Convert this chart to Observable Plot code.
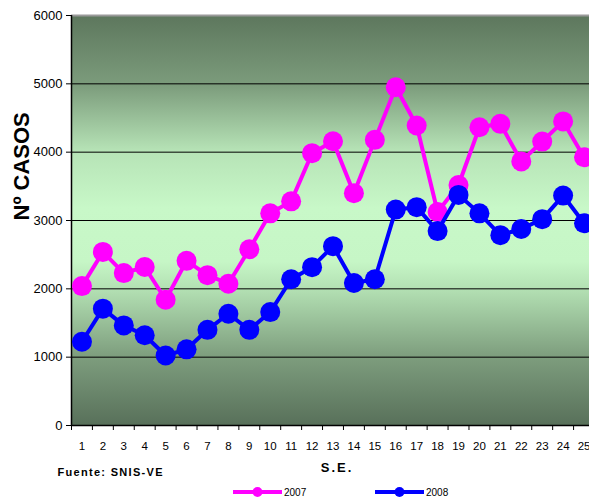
<!DOCTYPE html>
<html>
<head>
<meta charset="utf-8">
<script src="https://cdn.jsdelivr.net/npm/d3@7"></script>
<script src="https://cdn.jsdelivr.net/npm/@observablehq/plot@0.6"></script>
<style>
  html, body { margin: 0; padding: 0; background: #fff; overflow: hidden; width: 589px; height: 497px; }
  #chart { position: relative; width: 589px; height: 497px; overflow: hidden; }
  #chart > svg { max-width: none !important; width: 594px; height: 482px; display: block; }
  #legend { position: absolute; left: 0; top: 484px; width: 589px; height: 16px; font-family: Arial, "Liberation Sans", sans-serif; font-size: 10px; }
  .lg { position: absolute; top: 0; display: flex; align-items: center; height: 16px; }
  .lg svg { display: block; }
</style>
</head>
<body>
<div id="chart"></div>
<script>
const weeks = [1,2,3,4,5,6,7,8,9,10,11,12,13,14,15,16,17,18,19,20,21,22,23,24,25];
const cases2007 = [2040,2540,2230,2320,1840,2410,2200,2075,2580,3105,3280,3985,4160,3400,4180,4950,4390,3125,3520,4365,4415,3865,4155,4450,3925];
const cases2008 = [1225,1710,1465,1320,1025,1115,1400,1635,1400,1660,2140,2317,2625,2085,2140,3160,3195,2845,3375,3105,2785,2875,3020,3365,2960];
const series = ["2007", "2008"];
const colors = ["#ff00ff", "#0000ff"];
const yTicks = [0,1000,2000,3000,4000,5000,6000];
const gridTicks = [1000,2000,3000,4000,5000];

const rows = [];
weeks.forEach((w, i) => {
  rows.push({week: w, value: cases2007[i], year: series[0]});
});
weeks.forEach((w, i) => {
  rows.push({week: w, value: cases2008[i], year: series[1]});
});
const bounds = [weeks[0] - 0.5, ...weeks.map(w => w + 0.5)];

const font = 'Arial, "Liberation Sans", sans-serif';
const chart = Plot.plot({
  width: 594,
  height: 482,
  marginTop: 15,
  marginBottom: 57,
  marginLeft: 71,
  marginRight: 0,
  style: {fontFamily: font, background: "transparent", color: "#000", overflow: "visible", maxWidth: "none"},
  x: {domain: [bounds[0], bounds[bounds.length - 1]], axis: null},
  y: {domain: [0, 6000], axis: null},
  color: {domain: series, range: colors},
  marks: [
    Plot.frame({fill: "url(#bggrad)", stroke: "none"}),
    Plot.gridY(gridTicks, {stroke: "#000", strokeOpacity: 1, strokeWidth: 1}),
    Plot.ruleY([6000], {stroke: "#9a9a9a", strokeWidth: 2}),
    Plot.ruleX([bounds[0]], {stroke: "#000", strokeWidth: 1.5}),
    Plot.ruleY([0], {stroke: "#000", strokeWidth: 1.5}),
    Plot.axisY(yTicks, {tickSize: 5, tickPadding: 4, fontSize: 13, label: null, tickFormat: d => String(d)}),
    Plot.axisX(bounds, {tickSize: 5, tickFormat: () => "", label: null}),
    Plot.axisX(weeks, {tickSize: 0, tickPadding: 16, fontSize: 11.5, label: null}),
    Plot.line(rows.filter(d => d.year === series[0]), {x: "week", y: "value", stroke: "year", strokeWidth: 4}),
    Plot.dot(rows.filter(d => d.year === series[0]), {x: "week", y: "value", fill: "year", r: 10}),
    Plot.line(rows.filter(d => d.year === series[1]), {x: "week", y: "value", stroke: "year", strokeWidth: 4}),
    Plot.dot(rows.filter(d => d.year === series[1]), {x: "week", y: "value", fill: "year", r: 10}),
    Plot.text(["Nº CASOS"], {frameAnchor: "left", rotate: -90, dx: -50, fontSize: 22, fontWeight: "bold"}),
    Plot.text(["S.E."], {frameAnchor: "bottom", dx: 4, dy: 46, fontSize: 13, fontWeight: "bold"}),
    Plot.text(["Fuente: SNIS-VE"], {frameAnchor: "bottom-left", dx: -14, dy: 50, fontSize: 11, fontWeight: "bold", textAnchor: "start"})
  ]
});

// gradient definition for the plot-area background
const svg = d3.select(chart);
const defs = svg.insert("defs", ":first-child");
const grad = defs.append("linearGradient").attr("id", "bggrad").attr("x1", 0).attr("y1", 0).attr("x2", 0).attr("y2", 1);
[[0, "#5d775d"], [0.17, "#7c9c7c"], [0.33, "#b6e3b6"], [0.47, "#c8f8c8"], [0.6, "#c6f6c6"], [0.67, "#b2dfb2"], [0.83, "#7e9e7e"], [1, "#58705a"]]
  .forEach(([o, c]) => grad.append("stop").attr("offset", o).attr("stop-color", c));
svg.selectAll("text").filter(function() { return this.textContent.startsWith("Fuente"); }).style("letter-spacing", "1.3px");
svg.selectAll("text").filter(function() { return this.textContent === "S.E."; }).style("letter-spacing", "2px");

const root = document.getElementById("chart");
root.appendChild(chart);

// legend below the plot
const legend = document.createElement("div");
legend.id = "legend";
series.forEach((s, i) => {
  const item = document.createElement("div");
  item.className = "lg";
  item.style.left = (i === 0 ? 233 : 375) + "px";
  item.innerHTML = `<svg width="50" height="16"><line x1="0" x2="49" y1="8" y2="8" stroke="${colors[i]}" stroke-width="4"/><circle cx="24.5" cy="8" r="5" fill="${colors[i]}"/></svg><span style="margin-left:1px">${s}</span>`;
  legend.appendChild(item);
});
root.appendChild(legend);
</script>
</body>
</html>
